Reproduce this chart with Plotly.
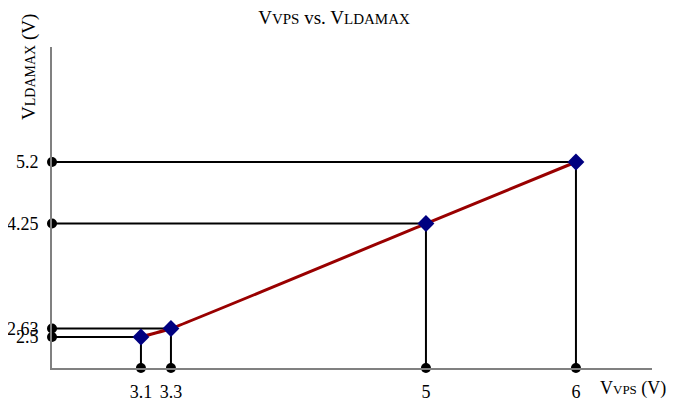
import plotly.graph_objects as go

vps = [3.1, 3.3, 5, 6]
vlda = [2.5, 2.63, 4.25, 5.2]
x_tick_text = ["3.1", "3.3", "5", "6"]
y_tick_text = ["2.5", "2.63", "4.25", "5.2"]

x_min, x_max = 2.507, 6.507
y_min, y_max = 2.021, 6.975

serif = "Liberation Serif"

# the page body has an 8px margin; size the figure so it fills the window
W, H = 675 - 8, 402 - 8


def sub(t, size=14):
    return f"<span style='font-size:{size}px'>{t}</span>"


# drop lines
hx, hy, vx, vy = [], [], [], []
for a, b in zip(vps, vlda):
    hx += [x_min, a, None]
    hy += [b, b, None]
    vx += [a, a, None]
    vy += [b, y_min, None]

fig = go.Figure()
fig.add_trace(go.Scatter(x=hx, y=hy, mode="lines", line=dict(color="black", width=2),
                         hoverinfo="skip", showlegend=False))
fig.add_trace(go.Scatter(x=vx, y=vy, mode="lines", line=dict(color="black", width=2),
                         hoverinfo="skip", showlegend=False))
fig.add_trace(go.Scatter(x=[x_min] * len(vlda), y=vlda, mode="markers",
                         marker=dict(color="black", size=10), cliponaxis=False, showlegend=False))
fig.add_trace(go.Scatter(x=vps, y=[y_min] * len(vps), mode="markers",
                         marker=dict(color="black", size=10), cliponaxis=False, showlegend=False))
fig.add_trace(go.Scatter(x=vps, y=vlda, mode="lines",
                         line=dict(color="#990000", width=3, shape="spline", smoothing=0.4),
                         showlegend=False))
fig.add_trace(go.Scatter(x=vps, y=vlda, mode="markers",
                         marker=dict(color="#000080", size=13, symbol="diamond"),
                         cliponaxis=False, showlegend=False))

fig.update_layout(
    width=W, height=H,
    margin=dict(l=44, r=23, t=39, b=34),
    paper_bgcolor="white", plot_bgcolor="white",
    font=dict(family=serif, size=18, color="black"),
    title=dict(text="V" + sub("VPS", 15) + " vs. V" + sub("LDAMAX", 15),
               x=326 / W, xanchor="center",
               y=1 - 9 / H, yanchor="middle", font=dict(family=serif, size=19)),
    xaxis=dict(range=[x_min, x_max], showgrid=False, zeroline=False, automargin=False,
               showline=True, linecolor="#808080", linewidth=2,
               tickmode="array", tickvals=vps, ticktext=x_tick_text,
               ticks="", ticklen=0, ticklabelstandoff=6, tickfont=dict(family=serif, size=18)),
    yaxis=dict(range=[y_min, y_max], showgrid=False, zeroline=False, automargin=False,
               showline=True, linecolor="#808080", linewidth=2,
               tickmode="array", tickvals=vlda, ticktext=y_tick_text,
               ticks="", ticklen=0, ticklabelstandoff=8, tickfont=dict(family=serif, size=18)),
    annotations=[
        dict(text="V" + sub("LDAMAX") + " (V)", textangle=-90, xref="paper", yref="paper",
             x=(29 - 52) / 600, y=(368 - 67) / 321, xanchor="center", yanchor="middle",
             showarrow=False, font=dict(family=serif, size=19)),
        dict(text="V" + sub("VPS", 13) + " (V)", xref="paper", yref="paper",
             x=(598 - 52) / 600, y=-(389 - 368) / 321, xanchor="left", yanchor="middle",
             showarrow=False, font=dict(family=serif, size=18)),
    ],
)

fig.write_html("out.html")
